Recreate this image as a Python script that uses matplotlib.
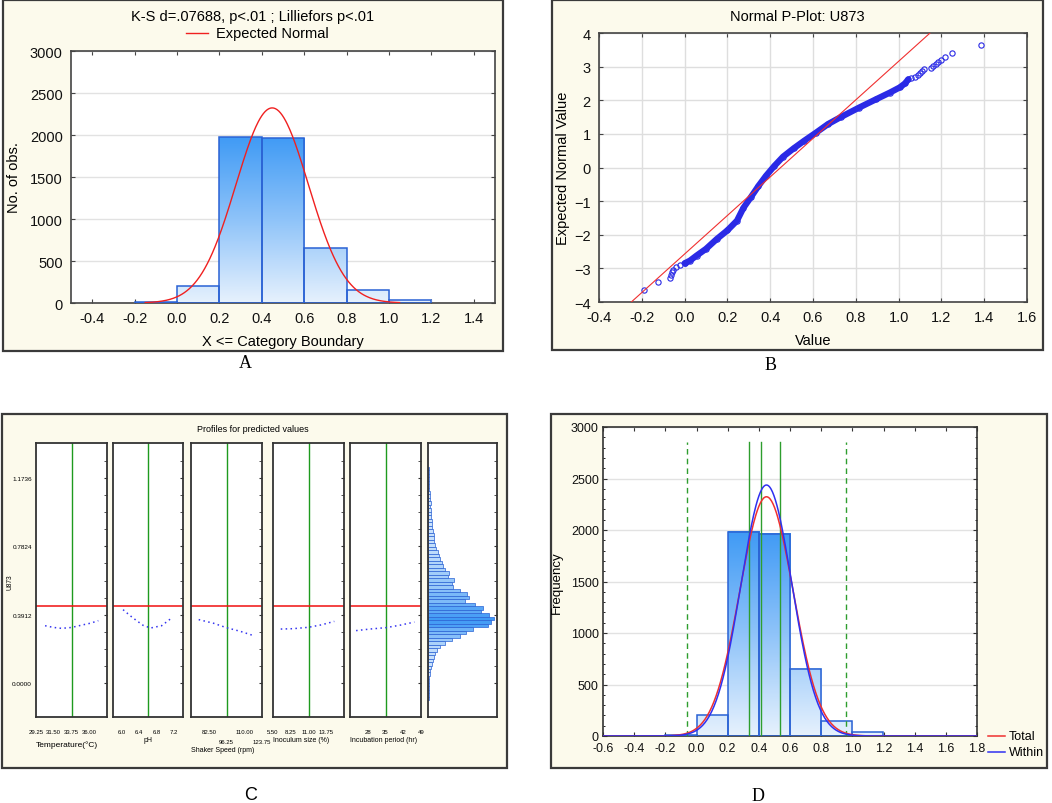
import numpy as np
import matplotlib
matplotlib.use("Agg")
import matplotlib.pyplot as plt
from matplotlib.patches import Rectangle
from matplotlib.lines import Line2D
from matplotlib.colors import LinearSegmentedColormap

W, H = 1052, 804
plt.rcParams["font.family"] = ["Liberation Sans", "DejaVu Sans"]
SERIF = ["Liberation Serif", "DejaVu Serif"]

# ---- data ----
bin_edges = [-0.2, 0.0, 0.2, 0.4, 0.6, 0.8, 1.0, 1.2]
counts_a = [8, 200, 1975, 1960, 650, 150, 35]
counts_d = [6, 200, 1985, 1965, 655, 145, 38]
mean_u873 = 0.449
sd_total = 0.171
sd_within = 0.163

# normal probability plot (value, expected normal value)
pp_band_x = [0.0, 0.025, 0.056, 0.10, 0.15, 0.20, 0.245, 0.275, 0.31, 0.345, 0.38,
             0.42, 0.46, 0.51, 0.56, 0.615, 0.67, 0.73, 0.815, 0.895, 0.96, 1.005, 1.03, 1.045]
pp_band_y = [-2.85, -2.77, -2.62, -2.42, -2.13, -1.87, -1.58, -1.20, -0.88, -0.55, -0.25,
             0.05, 0.32, 0.57, 0.80, 1.04, 1.29, 1.50, 1.78, 2.03, 2.23, 2.38, 2.50, 2.62]
pp_tail_x = [-0.188, -0.126, -0.068, -0.065, -0.060, -0.053, -0.040, -0.021, 0.002,
             1.06, 1.075, 1.09, 1.10, 1.11, 1.12, 1.15, 1.162, 1.175, 1.186, 1.20, 1.217, 1.251, 1.385]
pp_tail_y = [-3.64, -3.41, -3.30, -3.20, -3.12, -3.04, -2.97, -2.90, -2.85,
             2.66, 2.68, 2.74, 2.80, 2.87, 2.92, 2.97, 3.02, 3.08, 3.13, 3.20, 3.28, 3.41, 3.65]

# profiles for predicted values
pred_u873 = 0.441
prof_names = ["Temperature(\u00b0C)", "pH", "Shaker Speed (rpm)", "Inoculum size (%)", "Incubation period (hr)"]
prof_center = [33.75, 6.6, 96.25, 11.0, 35]
prof_xlim = [(29.25, 38.25), (5.8, 7.4), (68.75, 123.75), (5.5, 16.5), (21, 49)]
prof_ticks = [[29.25, 31.5, 33.75, 36.0], [6.0, 6.4, 6.8, 7.2], [82.5, 110.0],
              [5.5, 8.25, 11.0, 13.75], [28, 35, 42, 49]]
prof_ticklabels = [["29.25", "31.50", "33.75", "36.00"], ["6.0", "6.4", "6.8", "7.2"],
                   ["82.50", "110.00"], ["5.50", "8.25", "11.00", "13.75"],
                   ["28", "35", "42", "49"]]
speed_low_ticks = [96.25, 123.75]
speed_low_labels = ["96.25", "123.75"]
temp_x = [30.4, 31.5, 32.5, 33.75, 35.2, 36.2, 37.15]
temp_y = [0.328, 0.318, 0.313, 0.318, 0.333, 0.343, 0.357]
ph_x = [6.03, 6.19, 6.34, 6.49, 6.66, 6.91, 7.15]
ph_y = [0.420, 0.386, 0.357, 0.330, 0.315, 0.328, 0.374]
speed_x = [74.7, 86.3, 96.1, 106.9, 116.5]
speed_y = [0.363, 0.342, 0.317, 0.296, 0.273]
inoc_x = [6.7, 8.6, 11.0, 13.0, 15.0]
inoc_y = [0.309, 0.311, 0.319, 0.333, 0.353]
incub_x = [23.4, 28.9, 35.2, 40.7, 46.4]
incub_y = [0.300, 0.309, 0.317, 0.331, 0.349]
prof_curves = [(temp_x, temp_y), (ph_x, ph_y), (speed_x, speed_y), (inoc_x, inoc_y), (incub_x, incub_y)]
c_yticks = [0.0, 0.3912, 0.7824, 1.1736]
# histogram of observed U873 (bins of 0.02 starting at -0.10)
obs_hist = [1, 1, 1, 1, 1, 1, 1, 2, 2, 3, 4, 5, 6, 7, 9, 12, 17, 24, 32, 37, 44, 59, 62, 65, 60,
            52, 54, 46, 36, 40, 38, 32, 25, 24, 26, 20, 21, 17, 15, 14, 12, 11, 10, 8, 7, 6, 6,
            6, 5, 4, 4, 4, 3, 3, 3, 2, 3, 2, 2, 2, 1, 1, 1, 1, 0.5, 1, 1]

# capability lines
spec_lines = [0.34, 0.417, 0.539]
sigma3_lines = [mean_u873 - 3 * sd_total, mean_u873 + 3 * sd_total]

CREAM = "#FCFAEC"
BAR_EDGE = "#2A62D4"
bar_cmap = LinearSegmentedColormap.from_list("bars", ["#E6F1FD", "#8EC3F9", "#3F9AF5"])


def rect(x0, y0, x1, y1):
    return [x0 / W, 1 - y1 / H, (x1 - x0) / W, (y1 - y0) / H]


def frame(fig, x0, y0, x1, y1):
    fig.add_artist(Rectangle((x0 / W, 1 - y1 / H), (x1 - x0) / W, (y1 - y0) / H,
                             transform=fig.transFigure, fc=CREAM, ec="#3a3a3a", lw=1.6, zorder=-5))


def ftext(fig, x, y, s, **kw):
    fig.text(x / W, 1 - y / H, s, **kw)


def grad_bars(ax, edges, counts, vmax=2000):
    for x0, x1, c in zip(edges[:-1], edges[1:], counts):
        g = np.linspace(0, c / vmax, 100).reshape(-1, 1)
        ax.imshow(g, extent=(x0, x1, 0, c), origin="lower", cmap=bar_cmap, vmin=0, vmax=1,
                  aspect="auto", zorder=2, interpolation="bilinear")
        ax.add_patch(Rectangle((x0, 0), x1 - x0, c, fill=False, ec=BAR_EDGE, lw=1.1, zorder=3))


def normal_counts(x, sd):
    n = sum(counts_a)
    return n * 0.2 / (sd * np.sqrt(2 * np.pi)) * np.exp(-0.5 * ((x - mean_u873) / sd) ** 2)


def style(ax, color="#444444", size=10.5):
    for s in ax.spines.values():
        s.set_color(color)
        s.set_linewidth(1.2)
    ax.tick_params(direction="in", top=True, right=True, length=3, color=color,
                   labelsize=size, labelcolor="#111111", pad=6)


fig = plt.figure(figsize=(W / 100, H / 100), dpi=100)

# ---------------- A ----------------
frame(fig, 3, 1, 503, 352)
ax = fig.add_axes(rect(71, 52, 495, 304))
grad_bars(ax, bin_edges, counts_a)
xs = np.linspace(-0.15, 1.05, 300)
ax.plot(xs, normal_counts(xs, sd_total), color="#F02020", lw=1.0, zorder=4)
ax.set_xlim(-0.5, 1.5)
ax.set_ylim(0, 3000)
ax.set_xticks(np.arange(-0.4, 1.41, 0.2))
ax.set_xticklabels([f"{v:.1f}" for v in np.arange(-0.4, 1.41, 0.2)])
ax.set_yticks(range(0, 3001, 500))
ax.yaxis.grid(True, color="#E2E2E2", lw=1)
ax.set_axisbelow(True)
style(ax)
ax.set_xlabel("X <= Category Boundary", fontsize=10.5, labelpad=6)
ax.set_ylabel("No. of obs.", fontsize=10.5, labelpad=6)
ftext(fig, 253, 17, "K-S d=.07688, p<.01 ; Lilliefors p<.01", fontsize=10.5, ha="center", va="center")
fig.add_artist(Line2D([186 / W, 208 / W], [1 - 34 / H] * 2, color="#F02020", lw=1.0))
ftext(fig, 216, 34, "Expected Normal", fontsize=10.5, ha="left", va="center")
ftext(fig, 245, 364, "A", fontsize=13, ha="center", va="center", family=SERIF)

# ---------------- B ----------------
frame(fig, 552, 1, 1043, 351)
ax = fig.add_axes(rect(599, 34, 1027, 303))
ax.plot(pp_band_x, pp_band_y, color="#2A2AE6", lw=4.5, solid_capstyle="round", zorder=3)
ax.plot(pp_band_x, pp_band_y, "o", ms=3.8, mfc="none", mec="#2A2AE6", mew=0.8, zorder=3)
ax.plot(pp_tail_x, pp_tail_y, "o", ms=3.8, mfc="none", mec="#2A2AE6", mew=0.8, zorder=3)
lx = np.array([-0.4, 1.6])
ax.plot(lx, (lx - mean_u873) / 0.1745, color="#F03030", lw=0.8, zorder=4)
ax.set_xlim(-0.4, 1.6)
ax.set_ylim(-4, 4)
ax.set_xticks(np.arange(-0.4, 1.61, 0.2))
ax.set_xticklabels([f"{v:.1f}" for v in np.arange(-0.4, 1.61, 0.2)])
ax.set_yticks(range(-4, 5))
ax.grid(True, color="#DEDEDE", lw=1)
ax.set_axisbelow(True)
style(ax)
ax.set_xlabel("Value", fontsize=10.5, labelpad=6)
ax.set_ylabel("Expected Normal Value", fontsize=10.5, labelpad=3)
ftext(fig, 797, 17, "Normal P-Plot: U873", fontsize=10.5, ha="center", va="center")
ftext(fig, 771, 365, "B", fontsize=13, ha="center", va="center", family=SERIF)

# ---------------- C ----------------
frame(fig, 2, 415, 507, 769)
ftext(fig, 253, 429, "Profiles for predicted values", fontsize=6.5, ha="center", va="center")
c_xpos = [(36, 107), (113, 183), (191, 262), (273, 344), (350, 421), (428, 497)]
c_ylim = (-0.195, 1.375)
for i, (x0, x1) in enumerate(c_xpos):
    ax = fig.add_axes(rect(x0, 444, x1, 718))
    ax.set_ylim(*c_ylim)
    for s in ax.spines.values():
        s.set_color("#333333")
        s.set_linewidth(1.3)
    ax.set_yticks(c_yticks)
    ax.set_yticks(np.arange(0, 1.3, 0.0978), minor=True)
    ax.tick_params(axis="y", which="both", direction="in", left=False, right=True, length=2,
                   labelleft=(i == 0), labelsize=4.6, color="#333333", pad=3)
    if i == 0:
        ax.set_yticklabels([f"{v:.4f}" for v in c_yticks])
    if i < 5:
        ax.set_xlim(*prof_xlim[i])
        ax.set_xticks(prof_ticks[i])
        ax.set_xticklabels(prof_ticklabels[i], fontsize=4.3)
        ax.tick_params(axis="x", which="both", bottom=False, top=False, pad=5)
        if i == 2:
            ax.set_xticks(speed_low_ticks, minor=True)
            ax.set_xticklabels(speed_low_labels, minor=True, fontsize=4.3)
            ax.tick_params(axis="x", which="minor", pad=14)
        ax.axvline(prof_center[i], color="#1E9A1E", lw=1.0, zorder=2)
        ax.axhline(pred_u873, color="#F01010", lw=1.1, zorder=2)
        cx, cy = prof_curves[i]
        ax.plot(cx, cy, color="#3535F0", lw=1.1, dashes=(1, 2.2), zorder=3)
    else:
        centers = np.arange(-0.09, 1.24, 0.02)[:len(obs_hist)]
        cols = bar_cmap(np.array(obs_hist) / 65 * 0.9 + 0.1)
        ax.barh(centers, obs_hist, height=0.02, left=0, color=cols, edgecolor=BAR_EDGE, lw=0.5)
        ax.set_xlim(0, 68)
        ax.set_xticks([])
ftext(fig, 10, 582, "U873", fontsize=4.8, rotation=90, ha="center", va="center")
ftext(fig, 36, 745, prof_names[0], fontsize=6, ha="left", va="center")
ftext(fig, 148, 741, prof_names[1], fontsize=5, ha="center", va="center")
ftext(fig, 191, 751, prof_names[2], fontsize=5, ha="left", va="center")
ftext(fig, 273, 741, prof_names[3], fontsize=5, ha="left", va="center")
ftext(fig, 350, 741, prof_names[4], fontsize=5, ha="left", va="center")
ftext(fig, 251, 796, "C", fontsize=13, ha="center", va="center")

# ---------------- D ----------------
frame(fig, 551, 415, 1047, 769)
ax = fig.add_axes(rect(603, 428, 977, 737))
grad_bars(ax, bin_edges, counts_d)
xs = np.linspace(-0.6, 1.8, 500)
ax.plot(xs, normal_counts(xs, sd_total), color="#F03030", lw=1.1, zorder=5)
ax.plot(xs, normal_counts(xs, sd_within), color="#3030F0", lw=1.1, zorder=5)
for v in spec_lines:
    ax.plot([v, v], [0, 2855], color="#2E9E2E", lw=1.0, zorder=4)
for v in sigma3_lines:
    ax.plot([v, v], [0, 2855], color="#2E9E2E", lw=1.0, ls=(0, (4, 3)), zorder=4)
ax.set_xlim(-0.6, 1.8)
ax.set_ylim(0, 3000)
ax.set_xticks(np.arange(-0.6, 1.81, 0.2))
ax.set_xticklabels([f"{v:.1f}" for v in np.arange(-0.6, 1.81, 0.2)])
ax.set_yticks(range(0, 3001, 500))
ax.set_yticks(range(0, 3001, 100), minor=True)
ax.yaxis.grid(True, color="#E2E2E2", lw=1)
ax.set_axisbelow(True)
style(ax, "#333333", 9)
ax.tick_params(which="minor", direction="in", left=True, right=True, length=1.5)
ax.tick_params(axis="x", pad=4)
ax.tick_params(axis="y", pad=3)
ax.set_ylabel("Frequency", fontsize=9.5, labelpad=6)
fig.add_artist(Line2D([988 / W, 1005 / W], [1 - 737 / H] * 2, color="#F03030", lw=1.1))
fig.add_artist(Line2D([988 / W, 1005 / W], [1 - 753 / H] * 2, color="#3030F0", lw=1.1))
ftext(fig, 1009, 737, "Total", fontsize=9, ha="left", va="center")
ftext(fig, 1009, 753, "Within", fontsize=9, ha="left", va="center")
ftext(fig, 758, 797, "D", fontsize=13, ha="center", va="center", family=SERIF)

fig.savefig("out.png", dpi=100, facecolor="white")
